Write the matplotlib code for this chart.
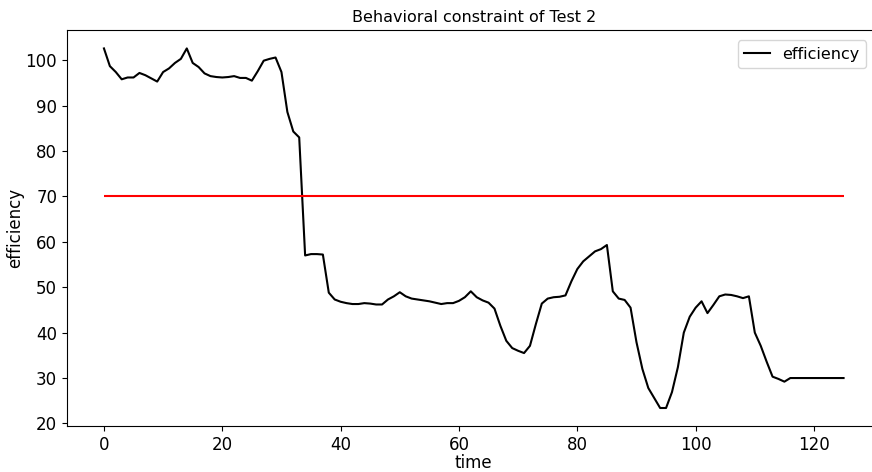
import numpy as np
import matplotlib
matplotlib.use("Agg")
import matplotlib.pyplot as plt

# efficiency readings, one per time step (0..125)
efficiency = [
    102.6, 98.7, 97.4, 95.8, 96.2, 96.2, 97.2, 96.7, 96.0, 95.3,
    97.4, 98.2, 99.4, 100.3, 102.6, 99.4, 98.5, 97.1, 96.5, 96.3,
    96.2, 96.3, 96.5, 96.1, 96.1, 95.5, 97.6, 99.9, 100.3, 100.6,
    97.4, 88.6, 84.3, 83.0, 57.0, 57.3, 57.3, 57.2, 48.8, 47.3,
    46.8, 46.5, 46.3, 46.3, 46.5, 46.4, 46.2, 46.2, 47.3, 48.0,
    48.9, 48.0, 47.5, 47.3, 47.1, 46.9, 46.6, 46.3, 46.5, 46.5,
    47.0, 47.8, 49.1, 47.8, 47.1, 46.6, 45.3, 41.5, 38.2, 36.6,
    36.0, 35.5, 37.1, 41.9, 46.4, 47.5, 47.8, 47.9, 48.2, 51.3,
    54.0, 55.7, 56.8, 57.9, 58.4, 59.3, 49.1, 47.5, 47.2, 45.5,
    37.9, 32.0, 27.8, 25.6, 23.4, 23.4, 26.9, 32.4, 40.0, 43.5,
    45.5, 46.9, 44.3, 46.1, 48.0, 48.4, 48.3, 48.0, 47.6, 48.0,
    40.0, 37.1, 33.6, 30.3, 29.8, 29.2, 30.0, 30.0, 30.0, 30.0,
    30.0, 30.0, 30.0, 30.0, 30.0, 30.0,
]
time = np.arange(len(efficiency))
threshold = 70

plt.rcParams['font.size'] = 12

fig = plt.figure(figsize=(8.72, 4.72), dpi=100)
# axes runs past the right edge, as in the reference crop
ax = fig.add_axes([0.0768, 0.0975, 0.933, 0.838])

ax.plot(time, efficiency, color='black', linewidth=1.5, label='efficiency')
ax.hlines(threshold, time[0], time[-1], color='red', linewidth=1.5)

ax.set_xlabel('time', labelpad=0.5)
ax.set_ylabel('efficiency', labelpad=1)
ax.set_title('Behavioral constraint of Test 2', fontsize=11.5)
ax.legend(loc='upper right', fontsize=11.5, handlelength=1.6,
          bbox_to_anchor=(0.992, 0.995))

fig.savefig('out.png', dpi=100)
